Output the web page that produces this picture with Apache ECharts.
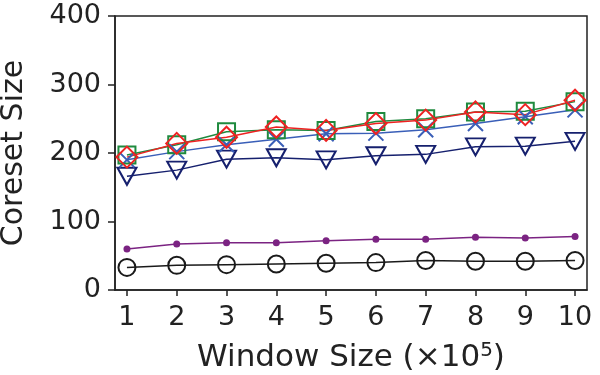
<!DOCTYPE html>
<html>
<head>
<meta charset="utf-8">
<script src="https://cdn.jsdelivr.net/npm/echarts@6/dist/echarts.min.js"></script>
<style>
  html, body { margin: 0; padding: 0; background: #fff; }
  #chart { width: 600px; height: 375px; }
</style>
</head>
<body>
<div id="chart"></div>
<script>
// window sizes (x10^5)
var windows = [1, 2, 3, 4, 5, 6, 7, 8, 9, 10];
var yTicks = [0, 100, 200, 300, 400];

// coreset sizes
var circleVals   = [33, 36, 37, 38, 39, 40, 43, 42, 42, 43];
var dotVals      = [60, 67, 69, 69, 72, 74, 74, 77, 76, 78];
var triangleVals = [166, 175, 191, 193, 190, 196, 198, 209, 210, 217];
var crossVals    = [190, 202, 212, 220, 228, 229, 234, 243, 253, 263];
var squareVals   = [197, 212, 231, 234, 233, 246, 250, 260, 261, 275];
var diamondVals  = [194, 214, 223, 238, 233, 243, 248, 260, 256, 277];

var FONT = 'DejaVu Sans';
var myChart = echarts.init(document.getElementById('chart'));

function pairs(vals) {
    var res = [];
    for (var i = 0; i < vals.length; i++) {
        res.push([windows[i], vals[i]]);
    }
    return res;
}

function hollow(name, vals, color, symbol, size, extra) {
    var s = {
        name: name,
        type: 'line',
        data: pairs(vals),
        symbol: symbol,
        symbolSize: size,
        showAllSymbol: true,
        lineStyle: { color: color, width: 1.5 },
        itemStyle: { color: 'none', borderColor: color, borderWidth: 2 },
        animation: false
    };
    for (var k in extra) s[k] = extra[k];
    return s;
}

var option = {
    backgroundColor: '#fff',
    grid: {
        left: 115, right: 13, top: 16, bottom: 85,
        outerBoundsMode: 'none',
        show: true, borderColor: '#222', borderWidth: 1.5
    },
    xAxis: {
        type: 'value',
        min: 0.76, max: 10.24,
        name: 'Window Size (×10{sup|5})',
        nameLocation: 'middle',
        nameGap: 51,
        nameTextStyle: {
            fontFamily: FONT, fontSize: 31, color: '#222', lineHeight: 34,
            rich: {
                sup: { fontFamily: FONT, fontSize: 20, color: '#222', lineHeight: 22, verticalAlign: 'top' }
            }
        },
        axisLine: { show: true, lineStyle: { color: '#222', width: 1.5 } },
        axisTick: { show: true, length: 6, customValues: windows, lineStyle: { color: '#222', width: 1.5 } },
        axisLabel: { customValues: windows, fontFamily: FONT, fontSize: 27, color: '#222', margin: 14 },
        splitLine: { show: false }
    },
    yAxis: {
        type: 'value',
        min: 0, max: 400, interval: 100,
        name: 'Coreset Size',
        nameLocation: 'middle',
        nameGap: 86,
        nameTextStyle: { fontFamily: FONT, fontSize: 30, color: '#222' },
        axisLine: { show: true, lineStyle: { color: '#222', width: 1.5 } },
        axisTick: { show: true, length: 7, lineStyle: { color: '#222', width: 1.5 } },
        axisLabel: { customValues: yTicks, fontFamily: FONT, fontSize: 27, color: '#222', margin: 14 },
        splitLine: { show: false }
    },
    series: [
        hollow('circle', circleVals, '#1a1a1a', 'circle', 17, {}),
        {
            name: 'dot',
            type: 'line',
            data: pairs(dotVals),
            symbol: 'circle',
            symbolSize: 7,
            lineStyle: { color: '#7b2382', width: 1.5 },
            itemStyle: { color: '#7b2382' },
            animation: false
        },
        hollow('triangle', triangleVals, '#16206e', 'triangle', [19, 17], { symbolRotate: 180 }),
        hollow('cross', crossVals, '#3a5fb8', 'path://M0,0L10,10M10,0L0,10', 15, {}),
        hollow('square', squareVals, '#1f8a3e', 'rect', 17, {}),
        hollow('diamond', diamondVals, '#ee2222', 'diamond', [21, 21], {})
    ]
};
myChart.setOption(option);
</script>
</body>
</html>
